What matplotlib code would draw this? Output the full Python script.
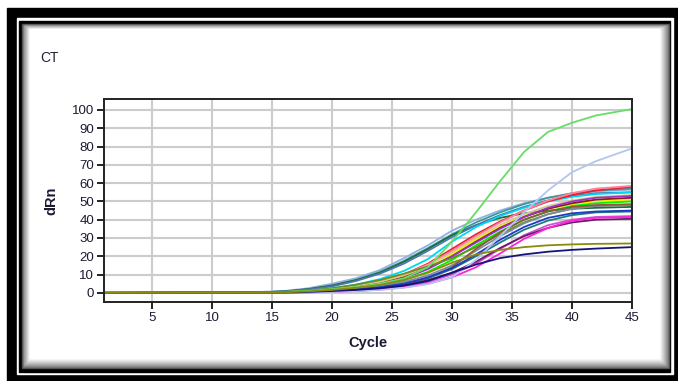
import matplotlib
matplotlib.use("Agg")
import matplotlib.pyplot as plt
from matplotlib.patches import Rectangle

# ---------------- DATA ---------------- #

cycles = [1, 14, 16, 18, 20, 22, 24, 26, 28, 30, 32, 34, 36, 38, 40, 42, 45]

curves = {
    "#8fb0e0": [0, 0.5, 1, 2.5, 5, 8, 12.5, 19, 26, 34, 40, 45, 49, 52, 54, 55.5, 56.5],
    "#3a9a9a": [0, 0.3, 0.8, 2, 4, 7, 11.5, 17.5, 24.5, 32, 38.5, 44, 48.5, 52, 54.5, 56, 57],
    "#1e6b3c": [0, 0.3, 0.8, 2, 4, 7, 11, 17, 24, 31.5, 37, 41, 43.5, 45, 46, 46.5, 47],
    "#4a78b0": [0, 0.3, 0.7, 1.8, 3.5, 6.5, 10.5, 16, 23, 30.5, 37, 42.5, 47, 50.5, 53, 54.5, 55],
    "#00d8f0": [0, 0.2, 0.5, 1.2, 2.5, 4.5, 7.5, 12, 18.5, 28, 36, 42, 46.5, 50, 52.5, 54, 55],
    "#e8202a": [0, 0.2, 0.4, 1, 2, 3.5, 6, 10, 16, 24, 32, 39, 45, 50, 53.5, 56, 58],
    "#ff7f9f": [0, 0.2, 0.4, 1, 2, 3.5, 6, 10, 15.5, 23, 31, 38.5, 45, 50.5, 54.5, 57, 58.5],
    "#d8c890": [0, 0.2, 0.4, 1, 2, 3.5, 6, 9.5, 15, 22, 30, 37, 43, 47.5, 50.5, 52.5, 53.5],
    "#f0f000": [0, 0.1, 0.3, 0.8, 1.6, 3, 5, 8.5, 13.5, 21, 29, 36, 42, 46, 48.5, 50, 51],
    "#8b1a1a": [0, 0.1, 0.3, 0.8, 1.6, 3, 5, 8.5, 13.5, 20, 28, 35.5, 41.5, 46, 49, 51, 52],
    "#9932cc": [0, 0.1, 0.3, 0.8, 1.5, 2.8, 4.8, 8, 13, 20, 27.5, 35, 41.5, 46.5, 50, 52, 53],
    "#00ee00": [0, 0.1, 0.3, 0.7, 1.4, 2.5, 4.2, 7, 11.5, 18, 26, 33.5, 40, 44.5, 47.5, 49, 50],
    "#6b8e23": [0, 0.2, 0.5, 1.2, 2.5, 4.5, 7, 10.5, 14.5, 19, 25, 32, 38.5, 43, 46, 47.5, 48],
    "#7c8c9c": [0, 0.1, 0.2, 0.6, 1.2, 2.2, 3.6, 6, 9.5, 15, 23, 31, 38, 43, 46, 47.5, 48],
    "#8c5a3c": [0, 0, 0.1, 0.4, 0.8, 1.5, 2.5, 4.5, 8, 14, 24, 33, 40, 44.5, 47, 48, 48.5],
    "#1f7a7a": [0, 0.1, 0.2, 0.5, 1, 1.8, 3, 5, 8, 13, 20, 27.5, 34.5, 39.5, 42.5, 44, 44.5],
    "#1c3cc8": [0, 0.1, 0.2, 0.5, 1, 1.8, 3, 5, 8.5, 13.5, 21, 29, 36, 41, 43.5, 44.5, 45],
    "#cc55cc": [0, 0, 0.1, 0.3, 0.7, 1.2, 2, 3.5, 6, 10, 16, 24, 31.5, 37, 40, 41.5, 42],
    "#6a1b6a": [0, 0, 0.1, 0.4, 0.8, 1.5, 2.5, 4, 7, 11, 17, 24.5, 31, 35.5, 38.5, 40, 40.5],
    "#ff22dd": [0, 0, 0.1, 0.3, 0.6, 1, 1.8, 3, 5, 8.5, 14, 21.5, 29.5, 35.5, 39.5, 41, 41.5],
    "#b4c4f4": [0, 0, 0.1, 0.2, 0.5, 1, 1.6, 2.8, 4.8, 8.5, 18, 31, 44, 56, 66, 72, 79],
    "#66dd66": [0, 0.2, 0.5, 1, 2, 3.2, 5, 8, 14, 28, 44, 61, 77, 88, 93, 97, 100.5],
    "#14147a": [0, 0.1, 0.2, 0.5, 1, 1.6, 2.5, 4, 6.5, 11, 15.5, 19, 21, 22.5, 23.5, 24.2, 25],
    "#8a8a10": [0, 0.1, 0.3, 0.8, 1.6, 2.8, 4.3, 7, 11, 16.5, 21, 23.5, 25, 26, 26.5, 26.8, 27],
}

x_ticks = [5, 10, 15, 20, 25, 30, 35, 40, 45]
y_ticks = [0, 10, 20, 30, 40, 50, 60, 70, 80, 90, 100]

# ---------------- FIGURE + FRAME ---------------- #

W, H = 678, 381
fig = plt.figure(figsize=(W / 100, H / 100), dpi=100)
fig.patch.set_facecolor("white")
plt.rcParams['font.family'] = ['Liberation Sans', 'DejaVu Sans']

bg = fig.add_axes([0, 0, 1, 1], zorder=-5)
bg.set_xlim(0, W)
bg.set_ylim(H, 0)
bg.axis("off")

# outer thick black band, thin white gap, inner black line
bg.add_patch(Rectangle((7, 8), W - 7, H - 8, color="black"))
bg.add_patch(Rectangle((17, 18), 656, 356, color="white"))
bg.add_patch(Rectangle((19, 21), 651, 351, color="black"))
# soft inner shadow
n = 11
for i in range(n):
    g = 0.3 + 0.7 * (i / (n - 1)) ** 0.7
    bg.add_patch(Rectangle((22 + i * 0.8, 24 + i * 0.5), 647 - 1.8 * i, 344 - i * 1.5,
                           color=(g, g, g)))
bg.add_patch(Rectangle((31, 30), 628, 327, color="white"))

bg.text(40, 58, "CT", fontsize=10, va="center", ha="left", color="#222233")

# ---------------- PLOT ---------------- #

ax = fig.add_axes([104 / W, 1 - 302 / H, 528 / W, 203 / H])
for color, vals in curves.items():
    ax.plot(cycles, vals, color=color, lw=1.3)

ax.set_xlim(1, 45)
ax.set_ylim(-5, 106)
ax.set_xticks(x_ticks)
ax.set_yticks(y_ticks)
ax.grid(True, color="#cccccc", lw=1.5)
ax.set_axisbelow(True)
for s in ax.spines.values():
    s.set_color("#222222")
    s.set_linewidth(1.4)
ax.tick_params(direction="out", length=5, width=1.4, color="#222222",
               labelsize=9.5, labelcolor="#1a1a33", pad=2)
ax.set_xlabel("Cycle", fontsize=10.5, fontweight="bold", color="#1a1a33", labelpad=9)
ax.set_ylabel("dRn", fontsize=10.5, fontweight="bold", color="#1a1a33", labelpad=10)

fig.savefig("out.png", dpi=100)
